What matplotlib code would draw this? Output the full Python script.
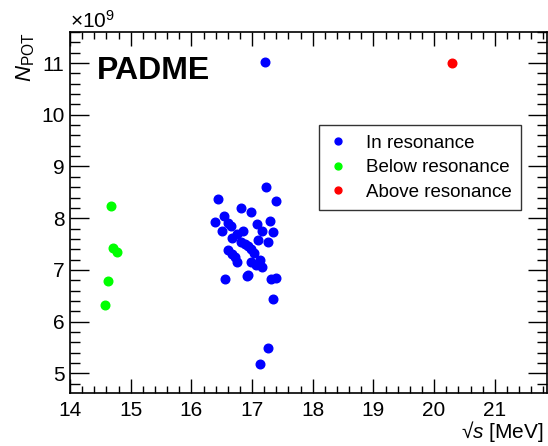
import matplotlib
matplotlib.use('Agg')
import matplotlib.pyplot as plt
from matplotlib.ticker import MultipleLocator, FuncFormatter

plt.rcParams['font.family'] = ['Liberation Sans', 'DejaVu Sans']
plt.rcParams['mathtext.fontset'] = 'custom'
plt.rcParams['mathtext.rm'] = 'Liberation Sans'
plt.rcParams['mathtext.it'] = 'Liberation Sans:italic'

# sqrt(s) in MeV, N_POT in units of 1e9
in_x = [17.21, 17.23, 16.44, 17.39, 16.81, 16.99, 16.54, 16.39, 16.60, 16.65,
        17.08, 17.29, 16.50, 16.85, 17.17, 17.34, 16.76, 16.67, 17.10, 17.27,
        16.82, 16.88, 16.93, 16.98, 16.61, 16.67, 17.04, 16.72, 16.76, 16.99,
        17.13, 17.06, 17.17, 16.56, 16.91, 16.94, 17.32, 17.39, 17.35, 17.27,
        17.13]
in_y = [11.02, 8.60, 8.38, 8.34, 8.19, 8.11, 8.04, 7.93, 7.91, 7.85,
        7.89, 7.94, 7.76, 7.76, 7.75, 7.74, 7.69, 7.62, 7.57, 7.53,
        7.53, 7.51, 7.47, 7.40, 7.38, 7.31, 7.32, 7.24, 7.16, 7.16,
        7.19, 7.09, 7.05, 6.83, 6.88, 6.91, 6.83, 6.85, 6.43, 5.49,
        5.18]

below_x = [14.67, 14.71, 14.77, 14.62, 14.57]
below_y = [8.24, 7.42, 7.34, 6.79, 6.32]

above_x = [20.29]
above_y = [11.0]

fig = plt.figure(figsize=(5.48, 4.46), dpi=100)
ax = fig.add_axes([70 / 548, 53 / 446, 477 / 548, 361 / 446])

ms = 6.2
ax.plot(in_x, in_y, 'o', color='#0000ff', ms=ms, mec='#0000ff', label='In resonance')
ax.plot(below_x, below_y, 'o', color='#00ff00', ms=ms, mec='#00ff00', label='Below resonance')
ax.plot(above_x, above_y, 'o', color='#ff0000', ms=ms, mec='#ff0000', label='Above resonance')

ax.set_xlim(14, 21.86)
ax.set_ylim(4.62, 11.6)

ax.xaxis.set_major_locator(MultipleLocator(1))
ax.xaxis.set_minor_locator(MultipleLocator(0.2))
ax.yaxis.set_major_locator(MultipleLocator(1))
ax.yaxis.set_minor_locator(MultipleLocator(0.2))
ax.yaxis.set_major_formatter(FuncFormatter(lambda v, p: '%d' % round(v)))

ax.tick_params(which='both', direction='in', top=True, right=True,
               labelsize=15, width=1)
ax.tick_params(axis='x', which='major', length=10, pad=6)
ax.tick_params(axis='x', which='minor', length=5)
ax.tick_params(axis='y', which='major', length=14, pad=4)
ax.tick_params(axis='y', which='minor', length=7)
for s in ax.spines.values():
    s.set_linewidth(1.2)

ax.set_xlabel(r'√$s$ [MeV]', fontsize=15)
ax.xaxis.set_label_coords(0.993, -0.072)
ax.xaxis.label.set_ha('right')
ax.set_ylabel(r'$N_{\mathrm{POT}}$', fontsize=16, loc='top', labelpad=3)

fig.text(70 / 548, 1 - 28 / 446, r'$\times10^{9}$', fontsize=15, ha='left', va='baseline')

ax.text(0.057, 0.87, 'PADME', transform=ax.transAxes, fontsize=23,
        fontweight='bold', ha='left', va='baseline')

leg = ax.legend(loc='upper left', bbox_to_anchor=((319 - 70) / 477, (393 - 125) / 361),
                fontsize=13.5, frameon=True, fancybox=False, edgecolor='black',
                handlelength=1.0, handletextpad=1.0, borderpad=0.5,
                labelspacing=0.4, markerscale=0.8, borderaxespad=0)
leg.get_frame().set_linewidth(1)

fig.savefig('out.png', dpi=100)
